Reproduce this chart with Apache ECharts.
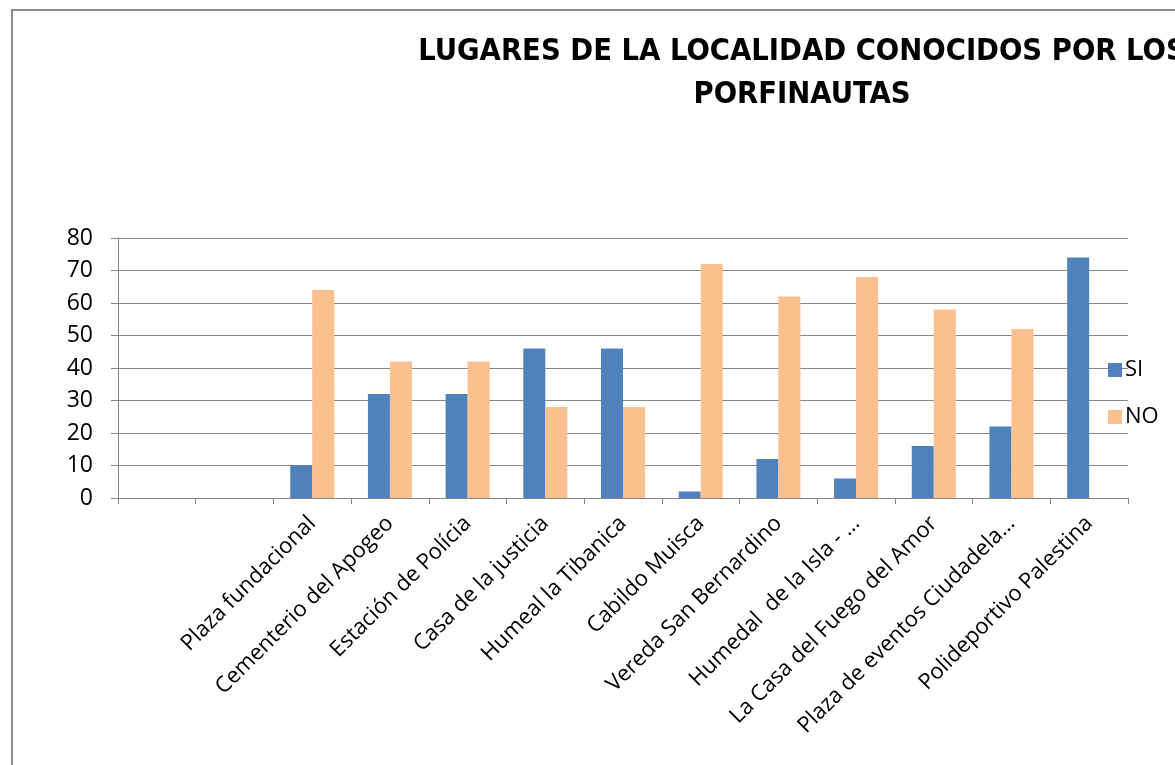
<!DOCTYPE html>
<html>
<head>
<meta charset="utf-8">
<script src="https://cdn.jsdelivr.net/npm/echarts@6/dist/echarts.min.js"></script>
<style>
html,body{margin:0;padding:0;background:#fff;}
#chart{width:1175px;height:765px;}
</style>
</head>
<body>
<div id="chart"></div>
<script>
const titleText = 'LUGARES DE LA LOCALIDAD CONOCIDOS POR LOS\nPORFINAUTAS';
const categories = ['', ' ', 'Plaza fundacional', 'Cementerio del Apogeo', 'Estación de Polícia', 'Casa de la justicia', 'Humeal la Tibanica', 'Cabildo Muisca', 'Vereda San Bernardino', 'Humedal  de la Isla - …', 'La Casa del Fuego del Amor', 'Plaza de eventos Ciudadela…', 'Polideportivo Palestina'];
const seriesNames = ['SI', 'NO'];
const siValues = [null, null, 10, 32, 32, 46, 46, 2, 12, 6, 16, 22, 74];
const noValues = [null, null, 64, 42, 42, 28, 28, 72, 62, 68, 58, 52, null];
const yTicks = {min: 0, max: 80, interval: 10};

const chart = echarts.init(document.getElementById('chart'));
const gray = '#868686';
const font = "'Open Sans', sans-serif";
chart.setOption({
  backgroundColor: '#fff',
  animation: false,
  title: {
    text: titleText,
    left: 797,
    top: 26,
    textAlign: 'center',
    textStyle: {fontFamily: "'Liberation Sans Narrow', 'DejaVu Sans Condensed', sans-serif", fontWeight: 'bold', fontSize: 30.6, lineHeight: 43, color: '#000'}
  },
  graphic: [{
    type: 'rect', shape: {x: 12, y: 10, width: 1200, height: 800},
    style: {fill: 'none', stroke: '#8c8c8c', lineWidth: 2}, silent: true, z: 100
  }],
  legend: {
    orient: 'vertical',
    left: 1103,
    top: 354,
    itemWidth: 14,
    itemHeight: 14,
    itemGap: 25,
    icon: 'rect',
    textStyle: {fontFamily: font, fontSize: 22, color: '#000', padding: [0, 0, 0, -2]},
    data: seriesNames
  },
  grid: {left: 118, right: 47, top: 238, bottom: 267, containLabel: false},
  xAxis: {
    type: 'category',
    data: categories,
    boundaryGap: true,
    axisLine: {lineStyle: {color: gray, width: 1}},
    axisTick: {show: true, length: 6, lineStyle: {color: gray}},
    axisLabel: {interval: 0, rotate: 45, margin: 22, fontFamily: font, fontSize: 22, color: '#000'}
  },
  yAxis: {
    type: 'value',
    min: yTicks.min, max: yTicks.max, interval: yTicks.interval,
    axisLine: {show: true, lineStyle: {color: gray, width: 1}},
    axisTick: {show: true, length: 7, lineStyle: {color: gray}},
    splitLine: {lineStyle: {color: gray, width: 1}},
    axisLabel: {fontFamily: font, fontSize: 23, color: '#000', margin: 25}
  },
  series: [
    {name: seriesNames[0], type: 'bar', data: siValues, barWidth: 22, barGap: '0%', itemStyle: {color: '#4F81BD'}},
    {name: seriesNames[1], type: 'bar', data: noValues, barWidth: 22, barGap: '0%', itemStyle: {color: '#FAC090'}}
  ]
});
</script>
</body>
</html>
